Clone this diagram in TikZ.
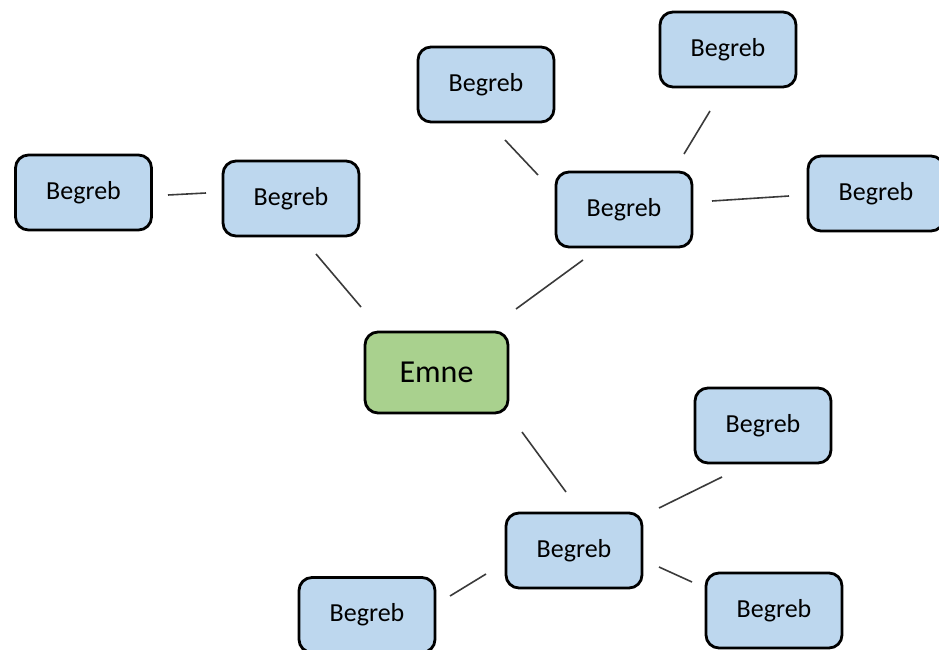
\documentclass[tikz,border=0pt]{standalone}
\usepackage{fontspec}
\setmainfont{Carlito}
\definecolor{conceptfill}{HTML}{BDD7EE}
\definecolor{topicfill}{HTML}{A9D18E}
\definecolor{linkgray}{HTML}{3A3A3A}
\begin{document}
\begin{tikzpicture}[x=1pt,y=-1pt,
  concept/.style={draw=black, line width=2.8pt, rounded corners=13pt,
    fill=conceptfill, minimum width=136pt, minimum height=75pt,
    font=\fontsize{26}{30}\selectfont, text=black},
  topic/.style={concept, fill=topicfill, minimum width=143pt, minimum height=81pt,
    font=\fontsize{32}{36}\selectfont},
  link/.style={draw=linkgray, line width=1.6pt}]
\useasboundingbox (0,0) rectangle (939,650);

% central topic
\node[topic] (emne) at (436.5,372.5) {Emne};

% left branch
\node[concept] (l1) at (83.5,192.5) {Begreb};
\node[concept] (l2) at (291,198.5) {Begreb};

% upper branch
\node[concept] (t1) at (486,84.5) {Begreb};
\node[concept] (t2) at (728,49.5) {Begreb};
\node[concept] (t3) at (624,209.5) {Begreb};
\node[concept] (t4) at (876,193.5) {Begreb};

% lower branch
\node[concept] (b1) at (763,425.5) {Begreb};
\node[concept] (b2) at (574,550.5) {Begreb};
\node[concept] (b3) at (367,615) {Begreb};
\node[concept] (b4) at (774,610.5) {Begreb};

% connectors (free-floating segments between boxes)
\draw[link] ([shift={(84.5,2.5)}]l1.center) -- ([shift={(-85,-5.5)}]l2.center);
\draw[link] ([shift={(25,55.5)}]l2.center) -- ([shift={(-75.5,-65.5)}]emne.center);
\draw[link] ([shift={(79.5,-63.5)}]emne.center) -- ([shift={(-41,50.5)}]t3.center);
\draw[link] ([shift={(-86,-34.5)}]t3.center) -- ([shift={(19,55.5)}]t1.center);
\draw[link] ([shift={(60,-55.5)}]t3.center) -- ([shift={(-18,61.5)}]t2.center);
\draw[link] ([shift={(88,-8.5)}]t3.center) -- ([shift={(-87,2.5)}]t4.center);
\draw[link] ([shift={(85.5,59.5)}]emne.center) -- ([shift={(-8,-58.5)}]b2.center);
\draw[link] ([shift={(85,-42.5)}]b2.center) -- ([shift={(-41,51.5)}]b1.center);
\draw[link] ([shift={(-88,23.5)}]b2.center) -- ([shift={(83,-19)}]b3.center);
\draw[link] ([shift={(85,16.5)}]b2.center) -- ([shift={(-82,-28.5)}]b4.center);
\end{tikzpicture}
\end{document}
